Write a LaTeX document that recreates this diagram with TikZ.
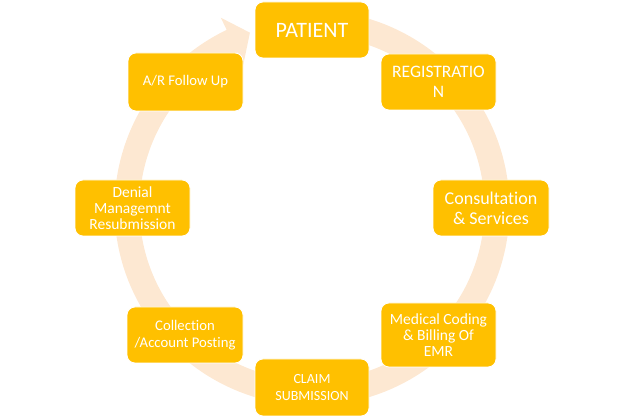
\documentclass[tikz,border=0pt]{standalone}
\usepackage{fontspec}
\setmainfont{Carlito}[Ligatures=NoCommon]
\usetikzlibrary{calc}
\definecolor{boxgold}{RGB}{255,192,0}
\definecolor{ringpeach}{RGB}{253,232,210}
\begin{document}
\begin{tikzpicture}[x=1pt,y=1pt,
  stepbox/.style={draw=white, line width=0.8pt, fill=boxgold, rounded corners=8pt,
    text=white, align=center, inner sep=0pt, minimum width=115pt, minimum height=56pt},
  ring/.style={draw=ringpeach, line width=25pt},
]
\useasboundingbox (0,0) rectangle (624,417);
\coordinate (C) at (312,209);
% ring with arrowhead
\draw[ring] ($(C)+(90:185)$) arc[start angle=90, end angle=-245, radius=185];
\fill[ringpeach] ($(C)+(115.6:211)$) -- ($(C)+(109.5:186)$) -- ($(C)+(115.6:159)$) -- cycle;
% boxes
\node[stepbox, minimum width=114pt, font=\fontsize{22}{26}\selectfont] (patient) at (312,387) {PATIENT};
\node[stepbox, font=\fontsize{17.5}{20.5}\selectfont] (reg) at (438.5,335) {REGISTRATIO\\N};
\node[stepbox, minimum width=116pt, font=\fontsize{18}{20}\selectfont] (cons) at (491,209) {Consultation\\\& Services};
\node[stepbox, minimum height=64pt, font=\fontsize{15.5}{16.3}\selectfont] (med) at (438.5,82) {Medical Coding\\\& Billing Of\\EMR};
\node[stepbox, minimum width=114pt, minimum height=57pt, font=\fontsize{14}{16.5}\selectfont] (claim) at (312,29.5) {CLAIM\\SUBMISSION};
\node[stepbox, minimum width=116pt, font=\fontsize{14.7}{17}\selectfont] (coll) at (185,82) {Collection\\/Account Posting};
\node[stepbox, font=\fontsize{15.5}{16.3}\selectfont] (denial) at (132.5,209) {Denial\\Managemnt\\Resubmission};
\node[stepbox, minimum height=58pt, font=\fontsize{14.7}{17}\selectfont] (ar) at (185.5,335) {A/R Follow Up};
\end{tikzpicture}
\end{document}
